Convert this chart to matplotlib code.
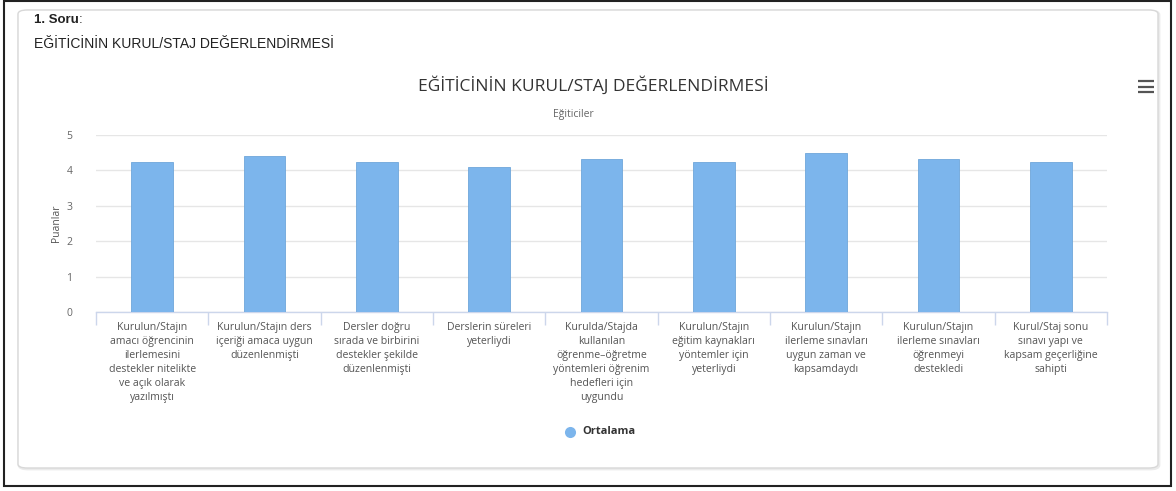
import matplotlib
matplotlib.use("Agg")
import matplotlib.pyplot as plt
from matplotlib.patches import FancyBboxPatch, Rectangle
from matplotlib.lines import Line2D
import numpy as np

categories = [
    "Kurulun/Stajın\namacı öğrencinin\nilerlemesini\ndestekler nitelikte\nve açık olarak\nyazılmıştı",
    "Kurulun/Stajın ders\niçeriği amaca uygun\ndüzenlenmişti",
    "Dersler doğru\nsırada ve birbirini\ndestekler şekilde\ndüzenlenmişti",
    "Derslerin süreleri\nyeterliydi",
    "Kurulda/Stajda\nkullanılan\nöğrenme–öğretme\nyöntemleri öğrenim\nhedefleri için\nuygundu",
    "Kurulun/Stajın\neğitim kaynakları\nyöntemler için\nyeterliydi",
    "Kurulun/Stajın\nilerleme sınavları\nuygun zaman ve\nkapsamdaydı",
    "Kurulun/Stajın\nilerleme sınavları\nöğrenmeyi\ndestekledi",
    "Kurul/Staj sonu\nsınavı yapı ve\nkapsam geçerliğine\nsahipti",
]
ortalama = [4.25, 4.41, 4.25, 4.10, 4.32, 4.25, 4.50, 4.32, 4.25]
yticks = [0, 1, 2, 3, 4, 5]

W, H = 1176, 491
fig = plt.figure(figsize=(W / 100, H / 100), dpi=100)
fig.patch.set_facecolor("white")

def fx(x):
    return x / W

def fy(y):
    return 1 - y / H

# outer black frame
fig.patches.append(Rectangle((fx(4), fy(486)), fx(1171) - fx(4), fy(1) - fy(486),
                             transform=fig.transFigure, fill=False, ec="#222222", lw=1.5,
                             zorder=-3))
# shadow + rounded container
fig.patches.append(FancyBboxPatch((fx(19), fy(469)), fx(1159) - fx(19), fy(11) - fy(469),
                                  boxstyle="round,pad=0,rounding_size=0.008",
                                  transform=fig.transFigure, fill=False, ec="#ebebeb", lw=2.0,
                                  zorder=-3))
fig.patches.append(FancyBboxPatch((fx(18), fy(468)), fx(1158) - fx(18), fy(10) - fy(468),
                                  boxstyle="round,pad=0,rounding_size=0.008",
                                  transform=fig.transFigure, fc="white", ec="#d8d8d8", lw=1.0,
                                  zorder=-2))

# header
fig.text(fx(34), fy(20), "1. Soru", family="Liberation Sans", fontsize=9.5, fontweight="bold",
         color="#222222", va="center", ha="left")
fig.text(fx(79), fy(20), ":", family="Liberation Sans", fontsize=9.5,
         color="#222222", va="center", ha="left")
fig.text(fx(34), fy(44), "EĞİTİCİNİN KURUL/STAJ DEĞERLENDİRMESİ", family="Liberation Sans",
         fontsize=10, color="#222222", va="center", ha="left")

# chart title / subtitle
fig.text(fx(593), fy(86), "EĞİTİCİNİN KURUL/STAJ DEĞERLENDİRMESİ", family="Open Sans",
         fontsize=12.5, color="#333333", va="center", ha="center")
fig.text(fx(573), fy(114), "Eğiticiler", family="Open Sans", fontsize=7.5,
         color="#666666", va="center", ha="center")

# hamburger
for yy in (81, 86.5, 92):
    fig.lines.append(Line2D([fx(1138), fx(1154)], [fy(yy), fy(yy)], transform=fig.transFigure,
                            color="#555555", lw=1.6, solid_capstyle="butt"))

left, right, top, bottom = 96, 1107, 135, 312
ax = fig.add_axes([fx(left), fy(bottom), fx(right) - fx(left), fy(top) - fy(bottom)])
ax.patch.set_alpha(0)
x = np.arange(len(categories))
ax.bar(x, ortalama, width=0.37, color="#7cb5ec", edgecolor="#6fa6da", linewidth=0.6, zorder=3)
ax.set_xlim(-0.5, len(categories) - 0.5)
ax.set_ylim(0, 5)
ax.set_yticks(yticks)
ax.set_yticklabels([str(t) for t in yticks], family="Open Sans", fontsize=7.5, color="#666666")
ax.tick_params(axis="y", length=0, pad=17)
ax.grid(axis="y", color="#e6e6e6", lw=1, zorder=0)
for s in ("top", "right", "left"):
    ax.spines[s].set_visible(False)
ax.spines["bottom"].set_color("#ccd6eb")
ax.spines["bottom"].set_linewidth(1)

ax.set_xticks(x)
ax.set_xticklabels(categories, family="Open Sans", fontsize=7.6, color="#555555",
                   linespacing=1.38, va="top", ha="center")
ax.tick_params(axis="x", length=0, pad=7)
ax.set_xticks(np.arange(-0.5, len(categories), 1.0), minor=True)
ax.tick_params(axis="x", which="minor", length=9, color="#ccd6eb", width=1)

ax.set_ylabel("Puanlar", family="Open Sans", fontsize=7.5, color="#555555")
ax.yaxis.set_label_coords(-0.034, 0.5)

# legend
fig.lines.append(Line2D([fx(570)], [fy(432)], transform=fig.transFigure, marker="o",
                        markersize=8, color="#7cb5ec", markeredgecolor="none", linestyle="none"))
fig.text(fx(582), fy(432), "Ortalama", family="Open Sans", fontsize=8, fontweight="bold",
         color="#333333", va="center", ha="left")

fig.savefig("out.png", dpi=100, facecolor="white")
